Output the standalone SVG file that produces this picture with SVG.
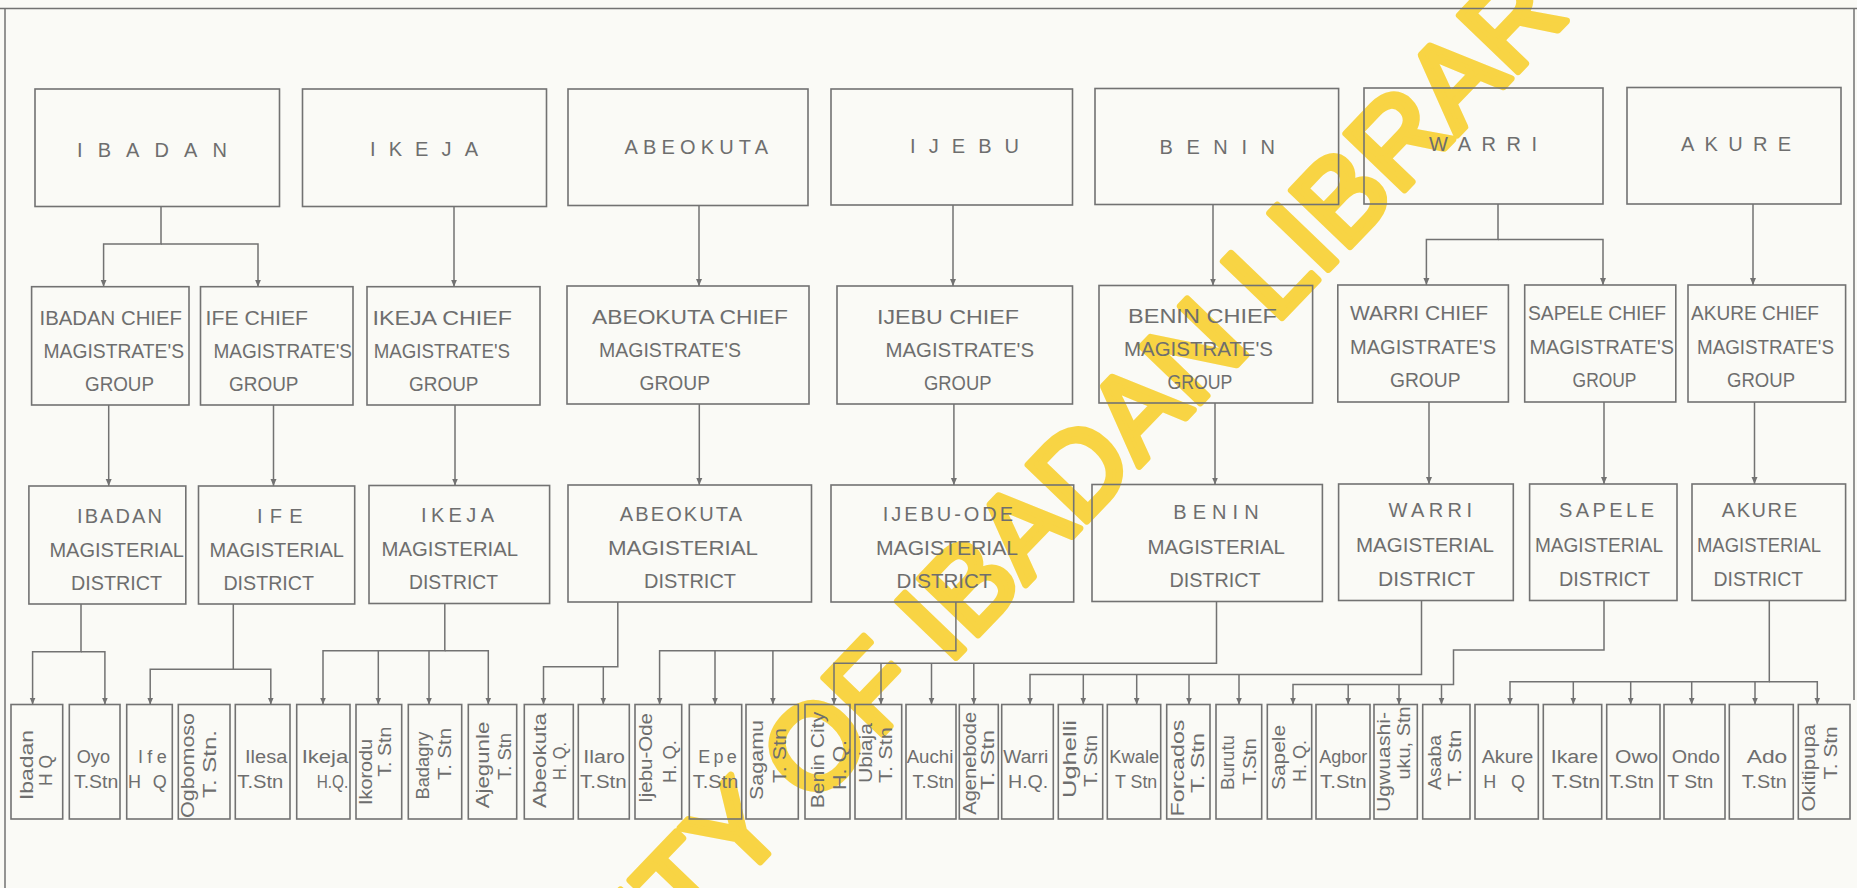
<svg xmlns="http://www.w3.org/2000/svg" width="1857" height="888" viewBox="0 0 1857 888">
<defs>
<style>
.bx{fill:none;stroke:#727272;stroke-width:1.6}
.c{fill:none;stroke:#727272;stroke-width:1.5}
text{font-family:"Liberation Sans",Arial,sans-serif;fill:#6e6e6e}
.h1{font-size:20px}
.t{font-size:20px}
.lf{font-size:18px}
.v{font-size:19px}
.wm{font-family:"Liberation Sans",Arial,sans-serif;font-size:118px;fill:#f8d444;stroke:#f8d444;stroke-width:7;stroke-linejoin:round}
</style>
<marker id="arr" markerWidth="8" markerHeight="8" refX="7" refY="4" orient="auto" markerUnits="userSpaceOnUse"><path d="M0,1 L7,4 L0,7 Z" fill="#727272"/></marker>
</defs>
<rect width="1857" height="888" fill="#fafaf6"/>
<text class="wm" transform="translate(301 1340.5) rotate(-46.2)">UNIVERSITY OF IBADAN LIBRARY</text>
<g id="frame" class="c">
<path d="M0 8.5 H1857"/>
<path d="M5 8.5 V888"/>
<path d="M1854 8.5 V700"/>
</g>
<g id="connectors" class="c" marker-end="url(#arr)">
<path d="M161 206.5 V244 H103.6 V286.7"/>
<path d="M161 244 H258 V286.7"/>
<path d="M454 206.5 V286.7"/>
<path d="M699 205.5 V286"/>
<path d="M953 205 V286"/>
<path d="M1213 204.5 V285.5"/>
<path d="M1498 204 V239.5 H1426.4 V285"/>
<path d="M1498 239.5 H1603 V285"/>
<path d="M1753 204 V285"/>
<path d="M108.7 405 V486"/>
<path d="M273.5 405 V486"/>
<path d="M455 405 V485.5"/>
<path d="M699.3 404 V485"/>
<path d="M953.9 404 V485"/>
<path d="M1215 403 V484.5"/>
<path d="M1429 402 V484"/>
<path d="M1604 402 V484"/>
<path d="M1754.5 402 V484"/>
<path d="M81 604 V651.7 H32.6 V704.5"/>
<path d="M81 651.7 H104.9 V704.5"/>
<path d="M233.3 604 V669.3 H150.2 V704.5"/>
<path d="M233.3 669.3 H270.8 V704.5"/>
<path d="M444.8 603.5 V650.7 H323 V704.5"/>
<path d="M378.3 650.7 V704.5"/>
<path d="M429 650.7 V704.5"/>
<path d="M444.8 650.7 H488.3 V704.5"/>
<path d="M617.8 602 V666.7 H543.5 V704.5"/>
<path d="M603.3 666.7 V704.5"/>
<path d="M955.9 602 V650.7 H659.6 V704.5"/>
<path d="M715 650.7 V704.5"/>
<path d="M772.9 650.7 V704.5"/>
<path d="M1216.5 601.5 V663.3 H834 V704.5"/>
<path d="M881 663.3 V704.5"/>
<path d="M931.5 663.3 V704.5"/>
<path d="M973.8 663.3 V704.5"/>
<path d="M1421.5 600.5 V674.5 H1030 V704.5"/>
<path d="M1083.3 674.5 V704.5"/>
<path d="M1136.7 674.5 V704.5"/>
<path d="M1189 674.5 V704.5"/>
<path d="M1239 674.5 V704.5"/>
<path d="M1604 600.5 V650 H1453.5 V684.5 H1293 V704.5"/>
<path d="M1348.2 684.5 V704.5"/>
<path d="M1399 684.5 V704.5"/>
<path d="M1441.5 684.5 V704.5"/>
<path d="M1769.3 600.5 V681.7 H1510 V704.5"/>
<path d="M1573.3 681.7 V704.5"/>
<path d="M1630.7 681.7 V704.5"/>
<path d="M1691.7 681.7 V704.5"/>
<path d="M1755 681.7 V704.5"/>
<path d="M1769.3 681.7 H1817.3 V704.5"/>
</g>
<!-- Row 1 -->
<g id="r_ibadan"><rect class="bx" x="35" y="89" width="244.5" height="117.5"/><text class="h1" x="77" y="157" textLength="150" lengthAdjust="spacing">IBADAN</text></g>
<g id="r_ikeja"><rect class="bx" x="302.5" y="89" width="244" height="117.5"/><text class="h1" x="370" y="156" textLength="108" lengthAdjust="spacing">IKEJA</text></g>
<g id="r_abeokuta"><rect class="bx" x="568" y="89" width="240" height="116.5"/><text class="h1" x="624.5" y="154" textLength="143.5" lengthAdjust="spacing">ABEOKUTA</text></g>
<g id="r_ijebu"><rect class="bx" x="831" y="89" width="241.5" height="116"/><text class="h1" x="910" y="153" textLength="109" lengthAdjust="spacing">IJEBU</text></g>
<g id="r_benin"><rect class="bx" x="1095" y="88.5" width="243.6" height="116"/><text class="h1" x="1159.5" y="154" textLength="115.5" lengthAdjust="spacing">BENIN</text></g>
<g id="r_warri"><rect class="bx" x="1364" y="88" width="239" height="116"/><text class="h1" x="1429" y="151" textLength="108" lengthAdjust="spacing">WARRI</text></g>
<g id="r_akure"><rect class="bx" x="1627" y="87.5" width="214" height="116.5"/><text class="h1" x="1681" y="151" textLength="110" lengthAdjust="spacing">AKURE</text></g>
<!-- Row 2 -->
<g id="cm_ibadan"><rect class="bx" x="31.6" y="286.7" width="157.4" height="118.3"/>
<text class="t" x="39.5" y="325" textLength="142.5" lengthAdjust="spacingAndGlyphs">IBADAN CHIEF</text>
<text class="t" x="43.5" y="358" textLength="140.5" lengthAdjust="spacingAndGlyphs">MAGISTRATE'S</text>
<text class="t" x="85" y="391" textLength="69" lengthAdjust="spacingAndGlyphs">GROUP</text></g>
<g id="cm_ife"><rect class="bx" x="200.5" y="286.7" width="152.5" height="118.3"/>
<text class="t" x="205.6" y="325" textLength="102.4" lengthAdjust="spacingAndGlyphs">IFE CHIEF</text>
<text class="t" x="213.5" y="358" textLength="138.5" lengthAdjust="spacingAndGlyphs">MAGISTRATE'S</text>
<text class="t" x="229" y="391" textLength="69.5" lengthAdjust="spacingAndGlyphs">GROUP</text></g>
<g id="cm_ikeja"><rect class="bx" x="367" y="286.7" width="173" height="118.3"/>
<text class="t" x="372.5" y="325" textLength="139.5" lengthAdjust="spacingAndGlyphs">IKEJA CHIEF</text>
<text class="t" x="373.7" y="358" textLength="136.3" lengthAdjust="spacingAndGlyphs">MAGISTRATE'S</text>
<text class="t" x="409" y="391" textLength="69.5" lengthAdjust="spacingAndGlyphs">GROUP</text></g>
<g id="cm_abeokuta"><rect class="bx" x="567" y="286" width="242" height="118"/>
<text class="t" x="592" y="324" textLength="196" lengthAdjust="spacingAndGlyphs">ABEOKUTA CHIEF</text>
<text class="t" x="599" y="357" textLength="142" lengthAdjust="spacingAndGlyphs">MAGISTRATE'S</text>
<text class="t" x="639.5" y="390" textLength="70.5" lengthAdjust="spacingAndGlyphs">GROUP</text></g>
<g id="cm_ijebu"><rect class="bx" x="837" y="286" width="235.5" height="118"/>
<text class="t" x="877" y="324" textLength="142" lengthAdjust="spacingAndGlyphs">IJEBU CHIEF</text>
<text class="t" x="885.5" y="357" textLength="148.5" lengthAdjust="spacingAndGlyphs">MAGISTRATE'S</text>
<text class="t" x="924" y="390" textLength="67.5" lengthAdjust="spacingAndGlyphs">GROUP</text></g>
<g id="cm_benin"><rect class="bx" x="1099" y="285.5" width="213.6" height="117.5"/>
<text class="t" x="1128" y="323" textLength="149" lengthAdjust="spacingAndGlyphs">BENIN CHIEF</text>
<text class="t" x="1124" y="356" textLength="149" lengthAdjust="spacingAndGlyphs">MAGISTRATE'S</text>
<text class="t" x="1167.4" y="389" textLength="65" lengthAdjust="spacingAndGlyphs">GROUP</text></g>
<g id="cm_warri"><rect class="bx" x="1337.8" y="285" width="170.6" height="117"/>
<text class="t" x="1350" y="320" textLength="138" lengthAdjust="spacingAndGlyphs">WARRI CHIEF</text>
<text class="t" x="1350" y="354" textLength="146" lengthAdjust="spacingAndGlyphs">MAGISTRATE'S</text>
<text class="t" x="1390" y="387" textLength="70.5" lengthAdjust="spacingAndGlyphs">GROUP</text></g>
<g id="cm_sapele"><rect class="bx" x="1524.7" y="285" width="151.1" height="117"/>
<text class="t" x="1528" y="320" textLength="138" lengthAdjust="spacingAndGlyphs">SAPELE CHIEF</text>
<text class="t" x="1529.6" y="354" textLength="144.4" lengthAdjust="spacingAndGlyphs">MAGISTRATE'S</text>
<text class="t" x="1572.6" y="387" textLength="63.8" lengthAdjust="spacingAndGlyphs">GROUP</text></g>
<g id="cm_akure"><rect class="bx" x="1688" y="285" width="157.6" height="117"/>
<text class="t" x="1691" y="320" textLength="128" lengthAdjust="spacingAndGlyphs">AKURE CHIEF</text>
<text class="t" x="1697" y="354" textLength="137" lengthAdjust="spacingAndGlyphs">MAGISTRATE'S</text>
<text class="t" x="1727" y="387" textLength="68" lengthAdjust="spacingAndGlyphs">GROUP</text></g>
<!-- Row 3 -->
<g id="md_ibadan"><rect class="bx" x="28.9" y="486" width="156.9" height="118"/>
<text class="t" x="77" y="523" textLength="85" lengthAdjust="spacing">IBADAN</text>
<text class="t" x="49.4" y="557" textLength="134.5" lengthAdjust="spacingAndGlyphs">MAGISTERIAL</text>
<text class="t" x="71" y="590" textLength="91" lengthAdjust="spacingAndGlyphs">DISTRICT</text></g>
<g id="md_ife"><rect class="bx" x="198.5" y="486" width="156.2" height="118"/>
<text class="t" x="257" y="523" textLength="45.5" lengthAdjust="spacing">IFE</text>
<text class="t" x="209.6" y="557" textLength="134.4" lengthAdjust="spacingAndGlyphs">MAGISTERIAL</text>
<text class="t" x="223.4" y="590" textLength="90.6" lengthAdjust="spacingAndGlyphs">DISTRICT</text></g>
<g id="md_ikeja"><rect class="bx" x="369" y="485.5" width="180.6" height="118"/>
<text class="t" x="421" y="522" textLength="73" lengthAdjust="spacing">IKEJA</text>
<text class="t" x="381.6" y="556" textLength="136.4" lengthAdjust="spacingAndGlyphs">MAGISTERIAL</text>
<text class="t" x="409" y="589" textLength="89" lengthAdjust="spacingAndGlyphs">DISTRICT</text></g>
<g id="md_abeokuta"><rect class="bx" x="568" y="485" width="243.5" height="117"/>
<text class="t" x="619.8" y="521" textLength="122.2" lengthAdjust="spacing">ABEOKUTA</text>
<text class="t" x="608" y="555" textLength="150" lengthAdjust="spacingAndGlyphs">MAGISTERIAL</text>
<text class="t" x="644" y="588" textLength="92" lengthAdjust="spacingAndGlyphs">DISTRICT</text></g>
<g id="md_ijebuode"><rect class="bx" x="831" y="485" width="242.7" height="117"/>
<text class="t" x="882.7" y="521" textLength="130.3" lengthAdjust="spacing">IJEBU-ODE</text>
<text class="t" x="876" y="555" textLength="142" lengthAdjust="spacingAndGlyphs">MAGISTERIAL</text>
<text class="t" x="896.6" y="588" textLength="94.9" lengthAdjust="spacingAndGlyphs">DISTRICT</text></g>
<g id="md_benin"><rect class="bx" x="1092" y="484.5" width="230.4" height="117"/>
<text class="t" x="1173.3" y="519" textLength="85.3" lengthAdjust="spacing">BENIN</text>
<text class="t" x="1147.6" y="554" textLength="137.4" lengthAdjust="spacingAndGlyphs">MAGISTERIAL</text>
<text class="t" x="1169.4" y="587" textLength="91.2" lengthAdjust="spacingAndGlyphs">DISTRICT</text></g>
<g id="md_warri"><rect class="bx" x="1338.6" y="484" width="174.7" height="116.5"/>
<text class="t" x="1388.6" y="517" textLength="83.4" lengthAdjust="spacing">WARRI</text>
<text class="t" x="1356" y="552" textLength="138" lengthAdjust="spacingAndGlyphs">MAGISTERIAL</text>
<text class="t" x="1378" y="586" textLength="97" lengthAdjust="spacingAndGlyphs">DISTRICT</text></g>
<g id="md_sapele"><rect class="bx" x="1529.6" y="484" width="147.4" height="116.5"/>
<text class="t" x="1559" y="517" textLength="95" lengthAdjust="spacing">SAPELE</text>
<text class="t" x="1535" y="552" textLength="128" lengthAdjust="spacingAndGlyphs">MAGISTERIAL</text>
<text class="t" x="1559" y="586" textLength="91" lengthAdjust="spacingAndGlyphs">DISTRICT</text></g>
<g id="md_akure"><rect class="bx" x="1692" y="484" width="153.6" height="116.5"/>
<text class="t" x="1721.7" y="517" textLength="75.3" lengthAdjust="spacing">AKURE</text>
<text class="t" x="1697" y="552" textLength="124" lengthAdjust="spacingAndGlyphs">MAGISTERIAL</text>
<text class="t" x="1713.6" y="586" textLength="89.4" lengthAdjust="spacingAndGlyphs">DISTRICT</text></g>
<!-- Row 4 -->
<g id="l_ibadan"><rect class="bx" x="11" y="704.5" width="51.7" height="114.5"/>
<text class="v" transform="translate(32.5 765) rotate(-90)" text-anchor="middle" textLength="70" lengthAdjust="spacingAndGlyphs">Ibadan</text>
<text class="v" transform="translate(52 770.5) rotate(-90)" text-anchor="middle" textLength="31" lengthAdjust="spacingAndGlyphs">H Q</text></g>
<g id="l_oyo"><rect class="bx" x="69.3" y="704.5" width="50.7" height="114.5"/>
<text class="lf" x="76.7" y="763" textLength="33.3" lengthAdjust="spacingAndGlyphs">Oyo</text>
<text class="lf" x="74" y="788" textLength="44.3" lengthAdjust="spacingAndGlyphs">T.Stn</text></g>
<g id="l_ife"><rect class="bx" x="126.7" y="704.5" width="45.6" height="114.5"/>
<text class="lf" x="138" y="763" textLength="28.7" lengthAdjust="spacing">Ife</text>
<text class="lf" x="128" y="788" textLength="38.7" lengthAdjust="spacing">H Q</text></g>
<g id="l_ogbomoso"><rect class="bx" x="178.3" y="704.5" width="51.7" height="114.5"/>
<text class="v" transform="translate(194 765.5) rotate(-90)" text-anchor="middle" textLength="105" lengthAdjust="spacingAndGlyphs">Ogbomoso</text>
<text class="v" transform="translate(215.5 764) rotate(-90)" text-anchor="middle" textLength="68" lengthAdjust="spacingAndGlyphs">T. Stn.</text></g>
<g id="l_ilesa"><rect class="bx" x="235.3" y="704.5" width="54.7" height="114.5"/>
<text class="lf" x="245" y="763" textLength="42.3" lengthAdjust="spacingAndGlyphs">Ilesa</text>
<text class="lf" x="237.3" y="788" textLength="46" lengthAdjust="spacingAndGlyphs">T.Stn</text></g>
<g id="l_ikeja"><rect class="bx" x="296.7" y="704.5" width="53.3" height="114.5"/>
<text class="lf" x="301.7" y="763" textLength="46.6" lengthAdjust="spacingAndGlyphs">Ikeja</text>
<text class="lf" x="316.7" y="788" textLength="31.6" lengthAdjust="spacingAndGlyphs">H.Q.</text></g>
<g id="l_ikorodu"><rect class="bx" x="356" y="704.5" width="45.7" height="114.5"/>
<text class="v" transform="translate(372 772) rotate(-90)" text-anchor="middle" textLength="66" lengthAdjust="spacingAndGlyphs">Ikorodu</text>
<text class="v" transform="translate(390.5 751.7) rotate(-90)" text-anchor="middle" textLength="50" lengthAdjust="spacingAndGlyphs">T. Stn</text></g>
<g id="l_badagry"><rect class="bx" x="408.3" y="704.5" width="53.4" height="114.5"/>
<text class="v" transform="translate(429 765.5) rotate(-90)" text-anchor="middle" textLength="68" lengthAdjust="spacingAndGlyphs">Badagry</text>
<text class="v" transform="translate(450.5 754) rotate(-90)" text-anchor="middle" textLength="52" lengthAdjust="spacingAndGlyphs">T. Stn</text></g>
<g id="l_ajegunle"><rect class="bx" x="468.3" y="704.5" width="48.4" height="114.5"/>
<text class="v" transform="translate(489 765) rotate(-90)" text-anchor="middle" textLength="86.6" lengthAdjust="spacingAndGlyphs">Ajegunle</text>
<text class="v" transform="translate(510.5 756.5) rotate(-90)" text-anchor="middle" textLength="47" lengthAdjust="spacingAndGlyphs">T. Stn</text></g>
<g id="l_abeokuta"><rect class="bx" x="524.3" y="704.5" width="49" height="114.5"/>
<text class="v" transform="translate(545.5 760.5) rotate(-90)" text-anchor="middle" textLength="95" lengthAdjust="spacingAndGlyphs">Abeokuta</text>
<text class="v" transform="translate(565.5 761) rotate(-90)" text-anchor="middle" textLength="38" lengthAdjust="spacingAndGlyphs">H. Q.</text></g>
<g id="l_ilaro"><rect class="bx" x="578.3" y="704.5" width="51" height="114.5"/>
<text class="lf" x="583.3" y="763" textLength="41.7" lengthAdjust="spacingAndGlyphs">Ilaro</text>
<text class="lf" x="580" y="788" textLength="46.7" lengthAdjust="spacingAndGlyphs">T.Stn</text></g>
<g id="l_ijebuode"><rect class="bx" x="635" y="704.5" width="46.7" height="114.5"/>
<text class="v" transform="translate(652 758) rotate(-90)" text-anchor="middle" textLength="90" lengthAdjust="spacingAndGlyphs">Ijebu-Ode</text>
<text class="v" transform="translate(675.5 761.5) rotate(-90)" text-anchor="middle" textLength="43" lengthAdjust="spacingAndGlyphs">H. Q.</text></g>
<g id="l_epe"><rect class="bx" x="689.3" y="704.5" width="52.4" height="114.5"/>
<text class="lf" x="698.3" y="763" textLength="38.4" lengthAdjust="spacing">Epe</text>
<text class="lf" x="692.7" y="788" textLength="45.6" lengthAdjust="spacingAndGlyphs">T.Stn</text></g>
<g id="l_sagamu"><rect class="bx" x="746" y="704.5" width="52.3" height="114.5"/>
<text class="v" transform="translate(763 760) rotate(-90)" text-anchor="middle" textLength="80" lengthAdjust="spacingAndGlyphs">Sagamu</text>
<text class="v" transform="translate(785.5 755.5) rotate(-90)" text-anchor="middle" textLength="55" lengthAdjust="spacingAndGlyphs">T. Stn</text></g>
<g id="l_benincity"><rect class="bx" x="805" y="704.5" width="45" height="114.5"/>
<text class="v" transform="translate(824 760) rotate(-90)" text-anchor="middle" textLength="96.6" lengthAdjust="spacingAndGlyphs">Benin City</text>
<text class="v" transform="translate(845.5 765) rotate(-90)" text-anchor="middle" textLength="50" lengthAdjust="spacingAndGlyphs">H. Q.</text></g>
<g id="l_ubiaja"><rect class="bx" x="855" y="704.5" width="46.7" height="114.5"/>
<text class="v" transform="translate(872 753) rotate(-90)" text-anchor="middle" textLength="60" lengthAdjust="spacingAndGlyphs">Ubiaja</text>
<text class="v" transform="translate(892 755) rotate(-90)" text-anchor="middle" textLength="56" lengthAdjust="spacingAndGlyphs">T. Stn</text></g>
<g id="l_auchi"><rect class="bx" x="906" y="704.5" width="50" height="114.5"/>
<text class="lf" x="906.7" y="763" textLength="46.6" lengthAdjust="spacingAndGlyphs">Auchi</text>
<text class="lf" x="912.4" y="788" textLength="41.5" lengthAdjust="spacingAndGlyphs">T.Stn</text></g>
<g id="l_agenebode"><rect class="bx" x="959.3" y="704.5" width="39" height="114.5"/>
<text class="v" transform="translate(975.5 763.3) rotate(-90)" text-anchor="middle" textLength="103" lengthAdjust="spacingAndGlyphs">Agenebode</text>
<text class="v" transform="translate(994 760) rotate(-90)" text-anchor="middle" textLength="60" lengthAdjust="spacingAndGlyphs">T. Stn</text></g>
<g id="l_warri"><rect class="bx" x="1001.7" y="704.5" width="51.6" height="114.5"/>
<text class="lf" x="1003.3" y="763" textLength="45" lengthAdjust="spacingAndGlyphs">Warri</text>
<text class="lf" x="1008" y="788" textLength="40.3" lengthAdjust="spacingAndGlyphs">H.Q.</text></g>
<g id="l_ughelli"><rect class="bx" x="1058.3" y="704.5" width="44.4" height="114.5"/>
<text class="v" transform="translate(1075.5 759) rotate(-90)" text-anchor="middle" textLength="78" lengthAdjust="spacingAndGlyphs">Ughelli</text>
<text class="v" transform="translate(1097 761) rotate(-90)" text-anchor="middle" textLength="52" lengthAdjust="spacingAndGlyphs">T. Stn</text></g>
<g id="l_kwale"><rect class="bx" x="1107.3" y="704.5" width="53.4" height="114.5"/>
<text class="lf" x="1109.3" y="763" textLength="50" lengthAdjust="spacingAndGlyphs">Kwale</text>
<text class="lf" x="1115" y="788" textLength="42.3" lengthAdjust="spacingAndGlyphs">T Stn</text></g>
<g id="l_forcados"><rect class="bx" x="1166.7" y="704.5" width="43.3" height="114.5"/>
<text class="v" transform="translate(1184 768) rotate(-90)" text-anchor="middle" textLength="97" lengthAdjust="spacingAndGlyphs">Forcados</text>
<text class="v" transform="translate(1204 763) rotate(-90)" text-anchor="middle" textLength="60" lengthAdjust="spacingAndGlyphs">T. Stn</text></g>
<g id="l_burutu"><rect class="bx" x="1216" y="704.5" width="45.7" height="114.5"/>
<text class="v" transform="translate(1234 762.5) rotate(-90)" text-anchor="middle" textLength="55" lengthAdjust="spacingAndGlyphs">Burutu</text>
<text class="v" transform="translate(1255.5 761.5) rotate(-90)" text-anchor="middle" textLength="47" lengthAdjust="spacingAndGlyphs">T.Stn</text></g>
<g id="l_sapele"><rect class="bx" x="1267.3" y="704.5" width="44.4" height="114.5"/>
<text class="v" transform="translate(1284.5 757.5) rotate(-90)" text-anchor="middle" textLength="65" lengthAdjust="spacingAndGlyphs">Sapele</text>
<text class="v" transform="translate(1305.5 761) rotate(-90)" text-anchor="middle" textLength="42" lengthAdjust="spacingAndGlyphs">H. Q.</text></g>
<g id="l_agbor"><rect class="bx" x="1316" y="704.5" width="54" height="114.5"/>
<text class="lf" x="1319.3" y="763" textLength="48" lengthAdjust="spacingAndGlyphs">Agbor</text>
<text class="lf" x="1320" y="788" textLength="46.7" lengthAdjust="spacingAndGlyphs">T.Stn</text></g>
<g id="l_ugwuashi"><rect class="bx" x="1374" y="704.5" width="43.3" height="114.5"/>
<text class="v" transform="translate(1390 762) rotate(-90)" text-anchor="middle" textLength="100" lengthAdjust="spacingAndGlyphs">Ugwuashi-</text>
<text class="v" transform="translate(1410 743) rotate(-90)" text-anchor="middle" textLength="73" lengthAdjust="spacingAndGlyphs">uku, Stn</text></g>
<g id="l_asaba"><rect class="bx" x="1422.7" y="704.5" width="47.3" height="114.5"/>
<text class="v" transform="translate(1440.5 762.5) rotate(-90)" text-anchor="middle" textLength="55" lengthAdjust="spacingAndGlyphs">Asaba</text>
<text class="v" transform="translate(1460.5 758) rotate(-90)" text-anchor="middle" textLength="57" lengthAdjust="spacingAndGlyphs">T. Stn</text></g>
<g id="l_akure"><rect class="bx" x="1475" y="704.5" width="63.3" height="114.5"/>
<text class="lf" x="1481.7" y="763" textLength="51.6" lengthAdjust="spacingAndGlyphs">Akure</text>
<text class="lf" x="1483.3" y="788" textLength="41.7" lengthAdjust="spacing">H Q</text></g>
<g id="l_ikare"><rect class="bx" x="1543.3" y="704.5" width="58.4" height="114.5"/>
<text class="lf" x="1550.7" y="763" textLength="47.6" lengthAdjust="spacingAndGlyphs">Ikare</text>
<text class="lf" x="1551.7" y="788" textLength="48.3" lengthAdjust="spacingAndGlyphs">T.Stn</text></g>
<g id="l_owo"><rect class="bx" x="1606.7" y="704.5" width="53.3" height="114.5"/>
<text class="lf" x="1615" y="763" textLength="43.3" lengthAdjust="spacingAndGlyphs">Owo</text>
<text class="lf" x="1609.3" y="788" textLength="44.7" lengthAdjust="spacingAndGlyphs">T.Stn</text></g>
<g id="l_ondo"><rect class="bx" x="1664" y="704.5" width="61" height="114.5"/>
<text class="lf" x="1671.7" y="763" textLength="48.3" lengthAdjust="spacingAndGlyphs">Ondo</text>
<text class="lf" x="1667.3" y="788" textLength="46" lengthAdjust="spacingAndGlyphs">T Stn</text></g>
<g id="l_ado"><rect class="bx" x="1729.3" y="704.5" width="64" height="114.5"/>
<text class="lf" x="1746.7" y="763" textLength="40.6" lengthAdjust="spacingAndGlyphs">Ado</text>
<text class="lf" x="1741.7" y="788" textLength="45" lengthAdjust="spacingAndGlyphs">T.Stn</text></g>
<g id="l_okitipupa"><rect class="bx" x="1798.3" y="704.5" width="51.7" height="114.5"/>
<text class="v" transform="translate(1814.5 768) rotate(-90)" text-anchor="middle" textLength="87" lengthAdjust="spacingAndGlyphs">Okitipupa</text>
<text class="v" transform="translate(1837 753) rotate(-90)" text-anchor="middle" textLength="53" lengthAdjust="spacingAndGlyphs">T. Stn</text></g>
</svg>
